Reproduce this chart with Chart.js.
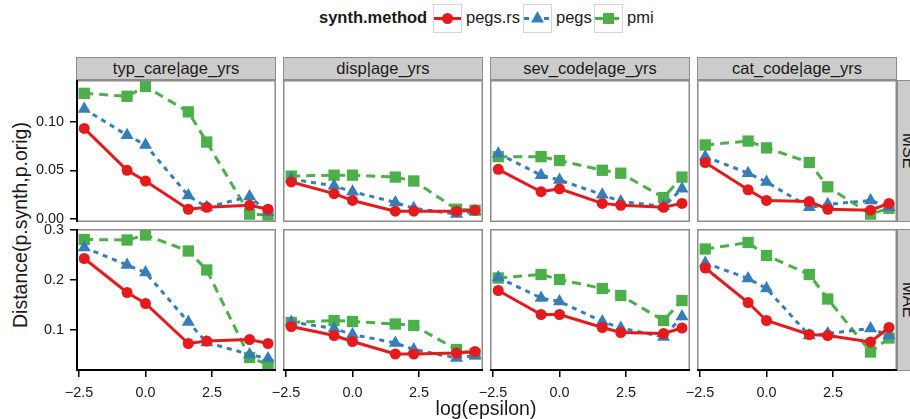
<!DOCTYPE html>
<html>
<head>
<meta charset="utf-8">
<script src="https://cdn.jsdelivr.net/npm/chart.js@4.4.1/dist/chart.umd.min.js"></script>
<style>
  body { margin: 0; width: 910px; height: 419px; overflow: hidden; background: #fff;
         font-family: "Liberation Sans", Arial, sans-serif; color: #1a1a1a; position: relative; }
  canvas { position: absolute; }
  .strip { position: absolute; background: #cccccc; border: 1.5px solid #8c8c8c; box-sizing: border-box;
           font-size: 16.5px; text-align: center; line-height: 20px; white-space: nowrap; }
  .vstrip { writing-mode: vertical-rl; display: flex; align-items: center; justify-content: center; }
  .key { position: absolute; top: 4px; width: 29px; height: 29px; border: 1.5px solid #d4d4d4;
         box-sizing: border-box; background: #fff; }
  .key svg { position: absolute; left: -1.5px; top: -1.5px; }
  .txt { position: absolute; white-space: nowrap; }
</style>
</head>
<body>
<script>
// data
var logEpsilon = [-2.303, -0.693, 0, 1.609, 2.303, 3.912, 4.605];
var facetNames = ["typ_care|age_yrs", "disp|age_yrs", "sev_code|age_yrs", "cat_code|age_yrs"];
var metricNames = ["MSE", "MAE"];
var methodNames = ["pegs.rs", "pegs", "pmi"];

var xTicks = [-2.5, 0, 2.5];
var xTickLabels = ["\u22122.5", "0.0", "2.5"];
var mseTicks = [0, 0.05, 0.10];
var mseTickLabels = ["0.00", "0.05", "0.10"];
var maeTicks = [0.1, 0.2, 0.3];
var maeTickLabels = ["0.1", "0.2", "0.3"];

// one row per facet, one value per epsilon
var pegsRsMSE = [
  [0.093, 0.050, 0.039, 0.010, 0.012, 0.014, 0.010],
  [0.038, 0.026, 0.019, 0.008, 0.008, 0.008, 0.009],
  [0.051, 0.028, 0.031, 0.016, 0.014, 0.012, 0.016],
  [0.058, 0.030, 0.019, 0.018, 0.010, 0.009, 0.016]
];
var pegsMSE = [
  [0.113, 0.086, 0.076, 0.024, 0.012, 0.023, 0.007],
  [0.041, 0.034, 0.028, 0.017, 0.011, 0.005, 0.008],
  [0.067, 0.045, 0.040, 0.025, 0.018, 0.013, 0.031],
  [0.064, 0.047, 0.038, 0.012, 0.015, 0.019, 0.012]
];
var pmiMSE = [
  [0.129, 0.126, 0.136, 0.110, 0.079, 0.005, 0.004],
  [0.044, 0.045, 0.045, 0.043, 0.039, 0.010, 0.009],
  [0.064, 0.064, 0.060, 0.050, 0.047, 0.022, 0.043],
  [0.076, 0.080, 0.073, 0.058, 0.033, 0.005, 0.011]
];
var pegsRsMAE = [
  [0.243, 0.175, 0.153, 0.073, 0.078, 0.081, 0.073],
  [0.107, 0.089, 0.077, 0.052, 0.052, 0.054, 0.057],
  [0.179, 0.131, 0.131, 0.105, 0.095, 0.093, 0.104],
  [0.224, 0.155, 0.119, 0.091, 0.089, 0.076, 0.105]
];
var pegsMAE = [
  [0.265, 0.230, 0.215, 0.116, 0.075, 0.051, 0.043],
  [0.116, 0.103, 0.091, 0.074, 0.061, 0.044, 0.049],
  [0.205, 0.164, 0.157, 0.117, 0.104, 0.086, 0.127],
  [0.234, 0.203, 0.183, 0.089, 0.093, 0.103, 0.089]
];
var pmiMAE = [
  [0.281, 0.280, 0.290, 0.258, 0.220, 0.045, 0.031],
  [0.115, 0.119, 0.117, 0.112, 0.109, 0.061, 0.052],
  [0.204, 0.211, 0.201, 0.183, 0.169, 0.119, 0.159],
  [0.262, 0.275, 0.249, 0.211, 0.162, 0.056, 0.084]
];

// look
var colors = ["#E41A1C", "#377EB8", "#4DAF4A"];
var dashes = [[], [5, 5], [9, 6]];
var shapes = ["circle", "triangle", "rect"];
var radii = [5.5, 7.5, 8];

var panelLeft = [76, 283, 490, 697];
var panelTop = [80, 229];
var panelW = 200, panelH = 142;
var xRange = [-2.613, 4.906];
var yRanges = [[-0.0031, 0.1427], [0.018, 0.302]];
var tickFont = { family: "'Liberation Sans', Arial, sans-serif", size: 14.4 };

var panelFrame = {
  id: 'panelFrame',
  afterDraw: function(chart, args, opts) {
    var ctx = chart.ctx, a = chart.chartArea;
    ctx.save();
    ctx.strokeStyle = '#8c8c8c';
    ctx.lineWidth = 1.5;
    ctx.strokeRect(a.left + 0.75, a.top + 0.75, a.right - a.left - 1.5, a.bottom - a.top - 1.5);
    ctx.strokeStyle = '#000';
    ctx.lineWidth = 2;
    ctx.beginPath();
    if (opts.left) { ctx.moveTo(a.left + 1, a.top); ctx.lineTo(a.left + 1, a.bottom); }
    if (opts.bottom) { ctx.moveTo(a.left, a.bottom - 1); ctx.lineTo(a.right, a.bottom - 1); }
    ctx.stroke();
    ctx.restore();
  }
};

function makePanel(c, r) {
  var padL = c === 0 ? 44 : 20;
  var padT = 10;
  var padB = r === 1 ? 30 : 10;
  var canvas = document.createElement('canvas');
  canvas.width = panelW + padL;
  canvas.height = panelH + padT + padB;
  canvas.style.left = (panelLeft[c] - padL) + 'px';
  canvas.style.top = (panelTop[r] - padT) + 'px';
  document.body.appendChild(canvas);

  var series = r === 0 ? [pegsRsMSE, pegsMSE, pmiMSE] : [pegsRsMAE, pegsMAE, pmiMAE];
  var yTicks = r === 0 ? mseTicks : maeTicks;
  var yLabels = r === 0 ? mseTickLabels : maeTickLabels;

  var datasets = methodNames.map(function(m, k) {
    return {
      label: m,
      data: logEpsilon.map(function(x, i) { return { x: x, y: series[k][c][i] }; }),
      borderColor: colors[k],
      backgroundColor: colors[k],
      borderWidth: 3,
      borderDash: dashes[k],
      pointStyle: shapes[k],
      pointRadius: radii[k],
      pointBorderWidth: 0,
      pointBackgroundColor: colors[k],
      tension: 0,
      clip: false
    };
  });

  new Chart(canvas, {
    type: 'line',
    data: { datasets: datasets },
    options: {
      responsive: false,
      animation: false,
      devicePixelRatio: 1,
      layout: { autoPadding: false,
                padding: { left: c === 0 ? 0 : 20, right: 0, top: padT, bottom: r === 1 ? 0 : padB } },
      plugins: { legend: { display: false }, tooltip: { enabled: false },
                 panelFrame: { left: c === 0, bottom: r === 1 } },
      scales: {
        x: {
          type: 'linear', min: xRange[0], max: xRange[1], display: r === 1,
          afterBuildTicks: function(s) { s.ticks = xTicks.map(function(v) { return { value: v }; }); },
          afterFit: function(s) { s.height = r === 1 ? padB : 0; s.paddingLeft = 0; s.paddingRight = 0; },
          ticks: { callback: function(v) { return xTickLabels[xTicks.indexOf(v)]; },
                   font: tickFont, color: '#1a1a1a', padding: 7, maxRotation: 0, autoSkip: false },
          grid: { drawOnChartArea: false, drawTicks: true, tickLength: 6, color: '#000', lineWidth: 1.5 },
          border: { display: false }
        },
        y: {
          type: 'linear', min: yRanges[r][0], max: yRanges[r][1], display: c === 0,
          afterBuildTicks: function(s) { s.ticks = yTicks.map(function(v) { return { value: v }; }); },
          afterFit: function(s) { s.width = c === 0 ? 44 : 0; s.paddingTop = 0; s.paddingBottom = 0; },
          ticks: { callback: function(v) { return yLabels[yTicks.indexOf(v)]; },
                   font: tickFont, color: '#1a1a1a', padding: 6, autoSkip: false },
          grid: { drawOnChartArea: false, drawTicks: true, tickLength: 6, color: '#000', lineWidth: 1.5 },
          border: { display: false }
        }
      }
    },
    plugins: [panelFrame]
  });
}

function addDiv(cls, text, css) {
  var d = document.createElement('div');
  d.className = cls;
  d.textContent = text;
  for (var k in css) d.style[k] = css[k];
  document.body.appendChild(d);
  return d;
}

// strips
facetNames.forEach(function(name, c) {
  addDiv('strip', name, { left: panelLeft[c] + 'px', top: '57px', width: panelW + 'px', height: '23px' });
});
metricNames.forEach(function(name, r) {
  addDiv('strip vstrip', name, { left: '897px', top: panelTop[r] + 'px', width: '23px', height: panelH + 'px' });
});

for (var r = 0; r < 2; r++) for (var c = 0; c < 4; c++) makePanel(c, r);

// axis titles
addDiv('txt', 'Distance(p.synth,p.orig)', { left: '20px', top: '225px', fontSize: '19.5px',
  transform: 'translate(-50%, -50%) rotate(-90deg)' });
addDiv('txt', 'log(epsilon)', { left: '486px', top: '408px', fontSize: '19.5px',
  transform: 'translate(-50%, -50%)' });

// legend
addDiv('txt', 'synth.method', { left: '319px', top: '8px', fontSize: '16.5px', fontWeight: 'bold' });
var keyLeft = [433, 523, 594];
methodNames.forEach(function(m, k) {
  var box = addDiv('key', '', { left: keyLeft[k] + 'px' });
  var ns = 'http://www.w3.org/2000/svg';
  var svg = document.createElementNS(ns, 'svg');
  svg.setAttribute('width', 29); svg.setAttribute('height', 29);
  var ln = document.createElementNS(ns, 'line');
  ln.setAttribute('x1', 1); ln.setAttribute('x2', 28); ln.setAttribute('y1', 14.5); ln.setAttribute('y2', 14.5);
  ln.setAttribute('stroke', colors[k]); ln.setAttribute('stroke-width', 3);
  if (dashes[k].length) ln.setAttribute('stroke-dasharray', dashes[k].join(' '));
  svg.appendChild(ln);
  var mk;
  if (k === 0) {
    mk = document.createElementNS(ns, 'circle');
    mk.setAttribute('cx', 14.5); mk.setAttribute('cy', 14.5); mk.setAttribute('r', 5.5);
  } else if (k === 1) {
    mk = document.createElementNS(ns, 'polygon');
    mk.setAttribute('points', '14.5,7 21,18.5 8,18.5');
  } else {
    mk = document.createElementNS(ns, 'rect');
    mk.setAttribute('x', 9); mk.setAttribute('y', 9); mk.setAttribute('width', 11); mk.setAttribute('height', 11);
  }
  mk.setAttribute('fill', colors[k]);
  svg.appendChild(mk);
  box.appendChild(svg);
  addDiv('txt', m, { left: (keyLeft[k] + 33) + 'px', top: '8px', fontSize: '16.5px' });
});
</script>
</body>
</html>
